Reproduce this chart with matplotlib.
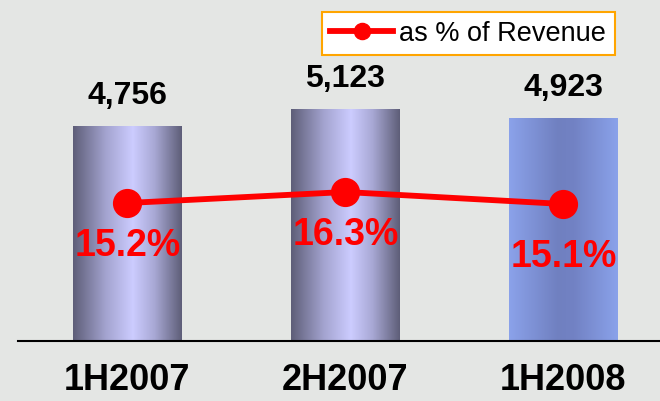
import numpy as np
import matplotlib.pyplot as plt
from matplotlib.colors import LinearSegmentedColormap

plt.rcParams['font.family'] = ['Liberation Sans', 'DejaVu Sans']

periods = ['1H2007', '2H2007', '1H2008']
revenue = [4756, 5123, 4923]
pct = [15.2, 16.3, 15.1]
value_labels = ['4,756', '5,123', '4,923']
pct_labels = ['15.2%', '16.3%', '15.1%']

bg = '#e4e6e4'
fig = plt.figure(figsize=(6.6, 4.01), dpi=100, facecolor=bg)
ax = fig.add_axes([18 / 660, 60 / 401, 642 / 660, 341 / 401])
ax.set_facecolor(bg)

x = np.arange(len(periods))
width = 0.5
bars = ax.bar(x, revenue, width, color='none', edgecolor='none')

# cylinder-like shading on the bars
cyl = LinearSegmentedColormap.from_list('cyl', [(0, '#5e5e78'), (0.3, '#a3a3cf'),
                                                (0.55, '#ccccff'), (0.75, '#a8a8d4'),
                                                (1, '#5e5e78')])
flat = LinearSegmentedColormap.from_list('flat', [(0, '#8ba2ea'), (0.45, '#7080c0'),
                                                  (0.6, '#7282c4'), (1, '#8aa2ea')])
grad = np.linspace(0, 1, 256).reshape(1, -1)
for i, b in enumerate(bars):
    cmap = flat if i == 2 else cyl
    x0, y0, w, h = b.get_x(), b.get_y(), b.get_width(), b.get_height()
    im = ax.imshow(grad, cmap=cmap, extent=[x0, x0 + w, y0, y0 + h],
                   aspect='auto', zorder=2)
    im.set_clip_path(b)

ax.set_xlim(-0.502, 2.443)
ax.set_ylim(0, 7544)
for s in ['top', 'right', 'left']:
    ax.spines[s].set_visible(False)
ax.spines['bottom'].set_linewidth(1.5)
ax.set_yticks([])
ax.set_xticks(x)
ax.set_xticklabels(periods, fontsize=26, fontweight='bold')
ax.tick_params(axis='x', length=0, pad=16)

for xi, v, lab in zip(x, revenue, value_labels):
    ax.annotate(lab, (xi, v), xytext=(0, 16), textcoords='offset points',
                ha='center', va='baseline', fontsize=23, fontweight='bold')

ax2 = ax.twinx()
ax2.set_ylim(1.4, 35.5)
ax2.axis('off')
ax2.plot(x, pct, color='#ff0000', lw=4.2, marker='o', ms=20,
         label='as % of Revenue', zorder=3)
offsets = [-18, -18, -25]
for xi, v, lab, dy in zip(x, pct, pct_labels, offsets):
    ax2.annotate(lab, (xi, v), xytext=(0, dy), textcoords='offset points',
                 ha='center', va='top', fontsize=27, fontweight='bold',
                 color='#ff0000')

leg = fig.legend(loc='upper right', bbox_to_anchor=(615 / 660, 1 - 12 / 401),
                 fontsize=19.5, markerscale=0.58, handlelength=2.3,
                 fancybox=False, framealpha=1, borderpad=0.32,
                 handletextpad=0.25, borderaxespad=0)
leg.get_frame().set_edgecolor('#ffa500')
leg.get_frame().set_linewidth(1.5)

fig.savefig('out.png', dpi=100, facecolor=bg)
